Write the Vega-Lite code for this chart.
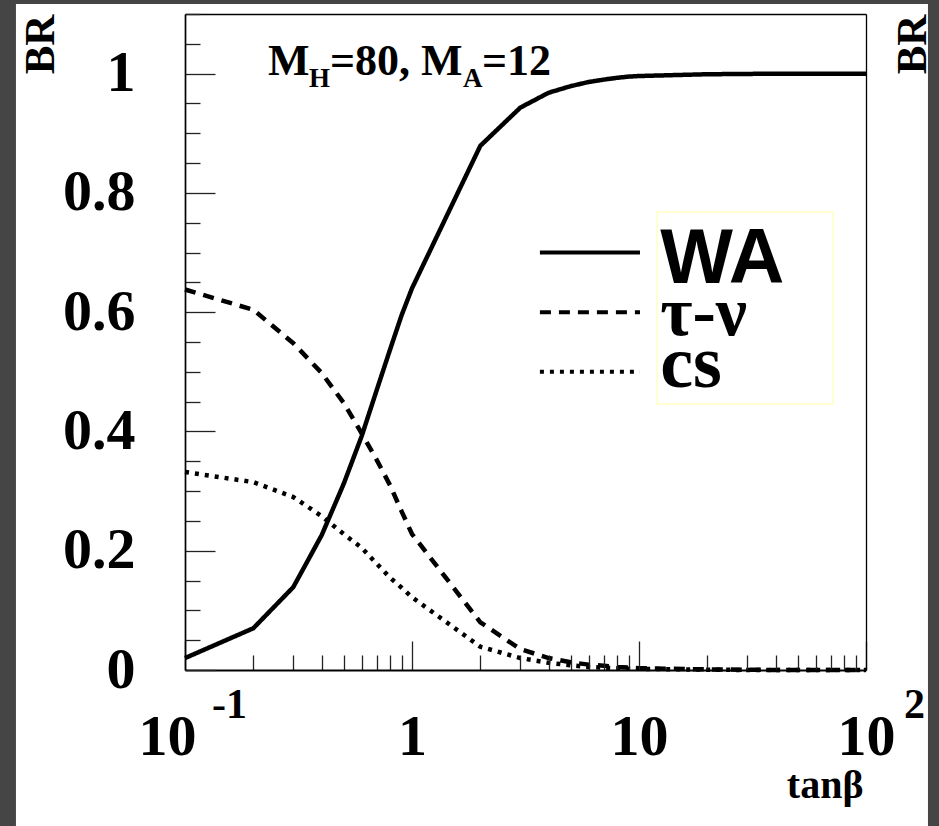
{
  "$schema": "https://vega.github.io/schema/vega-lite/v6.json",
  "width": 681,
  "height": 656,
  "autosize": {"type": "none"},
  "padding": {"left": 185, "top": 14, "right": 73, "bottom": 156},
  "background": "#454545",
  "config": {
    "view": {"stroke": null},
    "axis": {"grid": false, "zindex": 1}
  },
  "datasets": {
    "br": [
      {"tanb": 0.1, "BR": 0.020, "channel": "WA"},
      {"tanb": 0.2, "BR": 0.070, "channel": "WA"},
      {"tanb": 0.3, "BR": 0.139, "channel": "WA"},
      {"tanb": 0.4, "BR": 0.226, "channel": "WA"},
      {"tanb": 0.5, "BR": 0.312, "channel": "WA"},
      {"tanb": 0.6, "BR": 0.392, "channel": "WA"},
      {"tanb": 0.7, "BR": 0.470, "channel": "WA"},
      {"tanb": 0.8, "BR": 0.537, "channel": "WA"},
      {"tanb": 0.9, "BR": 0.595, "channel": "WA"},
      {"tanb": 1, "BR": 0.640, "channel": "WA"},
      {"tanb": 2, "BR": 0.879, "channel": "WA"},
      {"tanb": 3, "BR": 0.943, "channel": "WA"},
      {"tanb": 4, "BR": 0.968, "channel": "WA"},
      {"tanb": 5, "BR": 0.979, "channel": "WA"},
      {"tanb": 6, "BR": 0.986, "channel": "WA"},
      {"tanb": 7, "BR": 0.990, "channel": "WA"},
      {"tanb": 8, "BR": 0.993, "channel": "WA"},
      {"tanb": 9, "BR": 0.995, "channel": "WA"},
      {"tanb": 10, "BR": 0.996, "channel": "WA"},
      {"tanb": 20, "BR": 0.999, "channel": "WA"},
      {"tanb": 30, "BR": 0.9995, "channel": "WA"},
      {"tanb": 40, "BR": 1.0, "channel": "WA"},
      {"tanb": 50, "BR": 1.0, "channel": "WA"},
      {"tanb": 60, "BR": 1.0, "channel": "WA"},
      {"tanb": 70, "BR": 1.0, "channel": "WA"},
      {"tanb": 80, "BR": 1.0, "channel": "WA"},
      {"tanb": 90, "BR": 1.0, "channel": "WA"},
      {"tanb": 100, "BR": 1.0, "channel": "WA"},
      {"tanb": 0.1, "BR": 0.638, "channel": "τ⁻ν"},
      {"tanb": 0.2, "BR": 0.604, "channel": "τ⁻ν"},
      {"tanb": 0.3, "BR": 0.548, "channel": "τ⁻ν"},
      {"tanb": 0.4, "BR": 0.498, "channel": "τ⁻ν"},
      {"tanb": 0.5, "BR": 0.448, "channel": "τ⁻ν"},
      {"tanb": 0.6, "BR": 0.397, "channel": "τ⁻ν"},
      {"tanb": 0.7, "BR": 0.352, "channel": "τ⁻ν"},
      {"tanb": 0.8, "BR": 0.310, "channel": "τ⁻ν"},
      {"tanb": 0.9, "BR": 0.266, "channel": "τ⁻ν"},
      {"tanb": 1, "BR": 0.228, "channel": "τ⁻ν"},
      {"tanb": 2, "BR": 0.080, "channel": "τ⁻ν"},
      {"tanb": 3, "BR": 0.035, "channel": "τ⁻ν"},
      {"tanb": 4, "BR": 0.020, "channel": "τ⁻ν"},
      {"tanb": 5, "BR": 0.013, "channel": "τ⁻ν"},
      {"tanb": 6, "BR": 0.009, "channel": "τ⁻ν"},
      {"tanb": 7, "BR": 0.007, "channel": "τ⁻ν"},
      {"tanb": 8, "BR": 0.005, "channel": "τ⁻ν"},
      {"tanb": 9, "BR": 0.004, "channel": "τ⁻ν"},
      {"tanb": 10, "BR": 0.003, "channel": "τ⁻ν"},
      {"tanb": 20, "BR": 0.001, "channel": "τ⁻ν"},
      {"tanb": 30, "BR": 0.0005, "channel": "τ⁻ν"},
      {"tanb": 40, "BR": 0, "channel": "τ⁻ν"},
      {"tanb": 50, "BR": 0, "channel": "τ⁻ν"},
      {"tanb": 60, "BR": 0, "channel": "τ⁻ν"},
      {"tanb": 70, "BR": 0, "channel": "τ⁻ν"},
      {"tanb": 80, "BR": 0, "channel": "τ⁻ν"},
      {"tanb": 90, "BR": 0, "channel": "τ⁻ν"},
      {"tanb": 100, "BR": 0, "channel": "τ⁻ν"},
      {"tanb": 0.1, "BR": 0.332, "channel": "cs"},
      {"tanb": 0.2, "BR": 0.315, "channel": "cs"},
      {"tanb": 0.3, "BR": 0.290, "channel": "cs"},
      {"tanb": 0.4, "BR": 0.258, "channel": "cs"},
      {"tanb": 0.5, "BR": 0.228, "channel": "cs"},
      {"tanb": 0.6, "BR": 0.205, "channel": "cs"},
      {"tanb": 0.7, "BR": 0.178, "channel": "cs"},
      {"tanb": 0.8, "BR": 0.155, "channel": "cs"},
      {"tanb": 0.9, "BR": 0.138, "channel": "cs"},
      {"tanb": 1, "BR": 0.122, "channel": "cs"},
      {"tanb": 2, "BR": 0.039, "channel": "cs"},
      {"tanb": 3, "BR": 0.020, "channel": "cs"},
      {"tanb": 4, "BR": 0.012, "channel": "cs"},
      {"tanb": 5, "BR": 0.008, "channel": "cs"},
      {"tanb": 6, "BR": 0.005, "channel": "cs"},
      {"tanb": 7, "BR": 0.004, "channel": "cs"},
      {"tanb": 8, "BR": 0.003, "channel": "cs"},
      {"tanb": 9, "BR": 0.002, "channel": "cs"},
      {"tanb": 10, "BR": 0.002, "channel": "cs"},
      {"tanb": 20, "BR": 0.0005, "channel": "cs"},
      {"tanb": 30, "BR": 0, "channel": "cs"},
      {"tanb": 40, "BR": 0, "channel": "cs"},
      {"tanb": 50, "BR": 0, "channel": "cs"},
      {"tanb": 60, "BR": 0, "channel": "cs"},
      {"tanb": 70, "BR": 0, "channel": "cs"},
      {"tanb": 80, "BR": 0, "channel": "cs"},
      {"tanb": 90, "BR": 0, "channel": "cs"},
      {"tanb": 100, "BR": 0, "channel": "cs"}
    ]
  },
  "resolve": {"axis": {"x": "independent", "y": "independent"}},
  "layer": [
    {
      "data": {"values": [{}]},
      "mark": {"type": "rect", "fill": "white"},
      "encoding": {
        "x": {"datum": 0.018, "type": "quantitative", "scale": {"type": "log", "domain": [0.1, 100]},
          "axis": {"orient": "top", "zindex": 2, "values": [], "ticks": false, "labels": false, "title": null, "domain": true, "domainColor": "black", "domainWidth": 1.3}},
        "x2": {"datum": 187.5},
        "y": {"datum": 1.1168, "type": "quantitative", "scale": {"domain": [0, 1.1], "nice": false, "zero": false},
          "axis": {"orient": "right", "zindex": 2, "values": [], "ticks": false, "labels": false, "domain": true, "domainColor": "black", "domainWidth": 1.3,
            "title": "BR", "titleFont": "Liberation Serif", "titleFontWeight": "bold", "titleFontSize": 43, "titleColor": "black",
            "titleAngle": 270, "titleAlign": "center", "titleBaseline": "middle", "titleX": 46, "titleY": 30}},
        "y2": {"datum": -0.3}
      }
    },
    {
      "data": {"values": [{}]},
      "mark": {"type": "rect", "fill": null, "stroke": "#ffffc4", "strokeWidth": 1.5},
      "encoding": {
        "x": {"datum": 12.0, "type": "quantitative", "scale": {"type": "log", "domain": [0.1, 100]},
          "axis": {"orient": "bottom", "zindex": 2, "values": [0.1, 100], "ticks": false, "tickSize": 0, "domain": false, "title": null,
            "labelExpr": "datum.value == 0.1 ? '-1' : '2'", "labelFont": "Liberation Serif", "labelFontWeight": "bold", "labelFontSize": 42, "labelColor": "black",
            "labelBaseline": "alphabetic", "labelAlign": "center", "labelPadding": 47, "labelOverlap": false, "labelFlush": false, "labelBound": false,
            "labelOffset": {"condition": {"test": "datum.value == 100", "value": 48}, "value": 44}}},
        "x2": {"datum": 71.6},
        "y": {"datum": 0.768, "type": "quantitative", "scale": {"domain": [0, 1.1], "nice": false, "zero": false}, "axis": null},
        "y2": {"datum": 0.446}
      }
    },
    {
      "data": {"name": "br"},
      "mark": {"type": "line", "color": "black", "strokeWidth": 4.5, "strokeCap": "butt"},
      "encoding": {
        "x": {"field": "tanb", "type": "quantitative", "scale": {"type": "log", "domain": [0.1, 100]},
          "axis": {"orient": "bottom", "zindex": 2,
            "values": [0.1, 0.2, 0.3, 0.4, 0.5, 0.6, 0.7, 0.8, 0.9, 1, 2, 3, 4, 5, 6, 7, 8, 9, 10, 20, 30, 40, 50, 60, 70, 80, 90, 100],
            "ticks": true, "tickColor": "#222", "tickWidth": 1.3,
            "tickSize": {"condition": {"test": "datum.value == 0.1 || datum.value == 1 || datum.value == 10 || datum.value == 100", "value": -29}, "value": -15},
            "domain": true, "domainColor": "black", "domainWidth": 2,
            "labelExpr": "datum.value == 1 ? '1' : (datum.value == 0.1 || datum.value == 10 || datum.value == 100) ? '10' : ''",
            "labelFont": "Liberation Serif", "labelFontWeight": "bold", "labelFontSize": 58, "labelColor": "black",
            "labelBaseline": "alphabetic", "labelAlign": "center", "labelPadding": 113, "labelOverlap": false, "labelFlush": false, "labelBound": false,
            "labelOffset": {"condition": {"test": "datum.value == 0.1", "value": -18}, "value": 0},
            "title": "tanβ", "titleFont": "Liberation Serif", "titleFontWeight": "bold", "titleFontSize": 40, "titleColor": "black",
            "titleAlign": "right", "titleAnchor": "end", "titleBaseline": "alphabetic", "titleX": 678, "titleY": 127}},
        "y": {"field": "BR", "type": "quantitative", "scale": {"domain": [0, 1.1], "nice": false, "zero": false},
          "axis": {"orient": "left", "zindex": 2,
            "values": [0, 0.05, 0.1, 0.15, 0.2, 0.25, 0.3, 0.35, 0.4, 0.45, 0.5, 0.55, 0.6, 0.65, 0.7, 0.75, 0.8, 0.85, 0.9, 0.95, 1, 1.05, 1.1],
            "ticks": true, "tickColor": "#222", "tickWidth": 1.3,
            "tickSize": {"condition": {"test": "indexof([0, 0.2, 0.4, 0.6, 0.8, 1], datum.value) >= 0", "value": -30}, "value": -15},
            "domain": true, "domainColor": "black", "domainWidth": 1.7,
            "labelExpr": "datum.value == 0 ? '0' : datum.value == 1 ? '1' : indexof([0.2, 0.4, 0.6, 0.8], datum.value) >= 0 ? format(datum.value, '.1f') : ''",
            "labelFont": "Liberation Serif", "labelFontWeight": "bold", "labelFontSize": 58, "labelColor": "black",
            "labelBaseline": "middle", "labelAlign": "right", "labelPadding": 80, "labelOverlap": false, "labelFlush": false, "labelBound": false,
            "title": "BR", "titleFont": "Liberation Serif", "titleFontWeight": "bold", "titleFontSize": 43, "titleColor": "black",
            "titleAngle": 270, "titleAlign": "center", "titleBaseline": "middle", "titleX": -145, "titleY": 30}},
        "strokeDash": {"field": "channel", "type": "nominal",
          "scale": {"domain": ["WA", "τ⁻ν", "cs"], "range": [[1, 0], [11, 8], [4, 6]]},
          "legend": null}
      }
    },
    {
      "data": {"values": [{}]},
      "mark": {"type": "rule", "color": "black", "strokeWidth": 4},
      "encoding": {
        "x": {"datum": 3.66, "type": "quantitative", "scale": {"type": "log", "domain": [0.1, 100]}, "axis": null},
        "x2": {"datum": 10.1},
        "y": {"datum": 0.7, "type": "quantitative", "scale": {"domain": [0, 1.1], "nice": false, "zero": false}, "axis": null}
      }
    },
    {
      "data": {"values": [{}]},
      "mark": {"type": "rule", "color": "black", "strokeWidth": 4, "strokeDash": [11, 8]},
      "encoding": {
        "x": {"datum": 3.66, "type": "quantitative", "scale": {"type": "log", "domain": [0.1, 100]}, "axis": null},
        "x2": {"datum": 10.1},
        "y": {"datum": 0.6, "type": "quantitative", "scale": {"domain": [0, 1.1], "nice": false, "zero": false}, "axis": null}
      }
    },
    {
      "data": {"values": [{}]},
      "mark": {"type": "rule", "color": "black", "strokeWidth": 4, "strokeDash": [4, 6]},
      "encoding": {
        "x": {"datum": 3.66, "type": "quantitative", "scale": {"type": "log", "domain": [0.1, 100]}, "axis": null},
        "x2": {"datum": 10.1},
        "y": {"datum": 0.5, "type": "quantitative", "scale": {"domain": [0, 1.1], "nice": false, "zero": false}, "axis": null}
      }
    },
    {
      "data": {"values": [{}]},
      "mark": {"type": "text", "text": "WA", "font": "Liberation Sans", "fontWeight": "bold", "fontSize": 77, "align": "left", "baseline": "alphabetic", "color": "black", "dy": 30},
      "encoding": {
        "x": {"datum": 12.4, "type": "quantitative", "scale": {"type": "log", "domain": [0.1, 100]}, "axis": null},
        "y": {"datum": 0.7, "type": "quantitative", "scale": {"domain": [0, 1.1], "nice": false, "zero": false}, "axis": null}
      }
    },
    {
      "data": {"values": [{}]},
      "mark": {"type": "text", "text": "τ-ν", "font": "Liberation Serif", "fontWeight": "bold", "fontSize": 70, "align": "left", "baseline": "alphabetic", "color": "black", "dy": 23},
      "encoding": {
        "x": {"datum": 12.4, "type": "quantitative", "scale": {"type": "log", "domain": [0.1, 100]}, "axis": null},
        "y": {"datum": 0.6, "type": "quantitative", "scale": {"domain": [0, 1.1], "nice": false, "zero": false}, "axis": null}
      }
    },
    {
      "data": {"values": [{}]},
      "mark": {"type": "text", "text": "cs", "font": "Liberation Serif", "fontWeight": "bold", "fontSize": 74, "align": "left", "baseline": "alphabetic", "color": "black", "dy": 15},
      "encoding": {
        "x": {"datum": 12.4, "type": "quantitative", "scale": {"type": "log", "domain": [0.1, 100]}, "axis": null},
        "y": {"datum": 0.5, "type": "quantitative", "scale": {"domain": [0, 1.1], "nice": false, "zero": false}, "axis": null}
      }
    },
    {
      "data": {"values": [{}]},
      "mark": {"type": "text", "text": "M", "font": "Liberation Serif", "fontWeight": "bold", "fontSize": 44, "align": "left", "baseline": "alphabetic", "color": "black", "dx": 0},
      "encoding": {
        "x": {"datum": 0.232, "type": "quantitative", "scale": {"type": "log", "domain": [0.1, 100]}, "axis": null},
        "y": {"datum": 0.998, "type": "quantitative", "scale": {"domain": [0, 1.1], "nice": false, "zero": false}, "axis": null}
      }
    },
    {
      "data": {"values": [{}]},
      "mark": {"type": "text", "text": "H", "font": "Liberation Serif", "fontWeight": "bold", "fontSize": 27, "align": "left", "baseline": "alphabetic", "color": "black", "dx": 41, "dy": 12},
      "encoding": {
        "x": {"datum": 0.232, "type": "quantitative", "scale": {"type": "log", "domain": [0.1, 100]}, "axis": null},
        "y": {"datum": 0.998, "type": "quantitative", "scale": {"domain": [0, 1.1], "nice": false, "zero": false}, "axis": null}
      }
    },
    {
      "data": {"values": [{}]},
      "mark": {"type": "text", "text": "=80, M", "font": "Liberation Serif", "fontWeight": "bold", "fontSize": 44, "align": "left", "baseline": "alphabetic", "color": "black", "dx": 62},
      "encoding": {
        "x": {"datum": 0.232, "type": "quantitative", "scale": {"type": "log", "domain": [0.1, 100]}, "axis": null},
        "y": {"datum": 0.998, "type": "quantitative", "scale": {"domain": [0, 1.1], "nice": false, "zero": false}, "axis": null}
      }
    },
    {
      "data": {"values": [{}]},
      "mark": {"type": "text", "text": "A", "font": "Liberation Serif", "fontWeight": "bold", "fontSize": 27, "align": "left", "baseline": "alphabetic", "color": "black", "dx": 195, "dy": 12},
      "encoding": {
        "x": {"datum": 0.232, "type": "quantitative", "scale": {"type": "log", "domain": [0.1, 100]}, "axis": null},
        "y": {"datum": 0.998, "type": "quantitative", "scale": {"domain": [0, 1.1], "nice": false, "zero": false}, "axis": null}
      }
    },
    {
      "data": {"values": [{}]},
      "mark": {"type": "text", "text": "=12", "font": "Liberation Serif", "fontWeight": "bold", "fontSize": 44, "align": "left", "baseline": "alphabetic", "color": "black", "dx": 214},
      "encoding": {
        "x": {"datum": 0.232, "type": "quantitative", "scale": {"type": "log", "domain": [0.1, 100]}, "axis": null},
        "y": {"datum": 0.998, "type": "quantitative", "scale": {"domain": [0, 1.1], "nice": false, "zero": false}, "axis": null}
      }
    }
  ]
}
